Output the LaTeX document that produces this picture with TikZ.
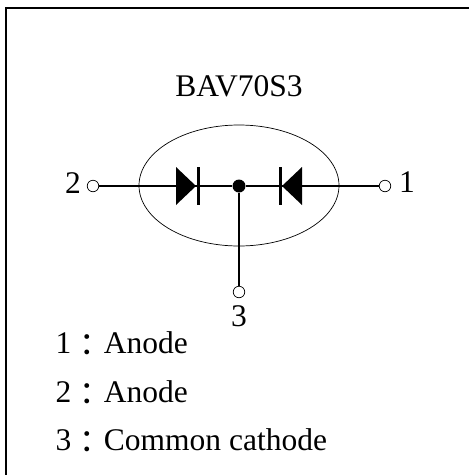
\documentclass[tikz,border=0pt]{standalone}
\usepackage{fontspec}
\setmainfont{Liberation Serif}
\newfontfamily\cjkf{Noto Sans CJK TC}
\newcommand{\legline}[2]{#1\kern0pt\raisebox{-3pt}{\cjkf：}\kern1pt #2}
\begin{document}
\begin{tikzpicture}[x=1pt,y=-1pt,
  wire/.style={line width=1.4pt,black},
  term/.style={circle,draw=black,fill=white,line width=0.7pt,inner sep=0pt,minimum size=11.5pt},
  lbl/.style={inner sep=0pt,anchor=base,font=\fontsize{31.5pt}{36pt}\selectfont},
  leg/.style={inner sep=0pt,anchor=base west,font=\fontsize{31.5pt}{36pt}\selectfont}]
\useasboundingbox (0,0) rectangle (469,475);
\fill[white] (0,0) rectangle (469,475);
\draw[line width=2pt] (5.5,475) -- (5.5,7.5) -- (469,7.5);
\node[term] (t2) at (93,186) {};
\node[term] (t1) at (385,186) {};
\node[term] (t3) at (239,292) {};
\node[circle,fill=black,inner sep=0pt,minimum size=13pt] (j) at (239,186) {};
\draw[line width=0.7pt] (239,185.5) ellipse [x radius=100,y radius=60.5];
\draw[wire] (t2) -- (j);
\draw[wire] (j) -- (t1);
\draw[wire] (j) -- (t3);
\fill (176,167) -- (176,205) -- (196,186) -- cycle;
\draw[line width=3pt] (198,167) -- (198,205);
\fill (302,167) -- (302,205) -- (282,186) -- cycle;
\draw[line width=3pt] (280,167) -- (280,205);
\node[lbl] (title) at (239,96) {BAV70S3};
\node[lbl] (n2) at (73,193) {2};
\node[lbl] (n1) at (407,192) {1};
\node[lbl] (n3) at (239,326) {3};
\node[leg] (a) at (55.5,353) {\legline{1}{Anode}};
\node[leg] (b) at (55.5,402) {\legline{2}{Anode}};
\node[leg] (c) at (55.5,450) {\legline{3}{Common cathode}};
\end{tikzpicture}
\end{document}
